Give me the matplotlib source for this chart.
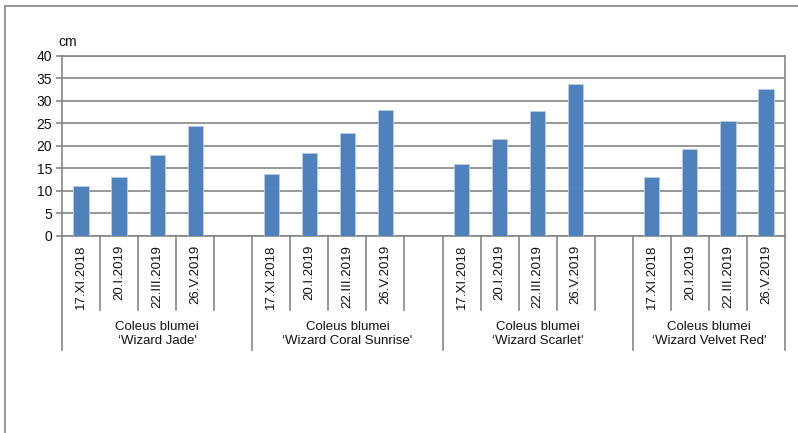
import matplotlib
matplotlib.use("Agg")
import matplotlib.pyplot as plt
from matplotlib.lines import Line2D

plt.rcParams['font.family'] = ['Liberation Sans', 'DejaVu Sans']

dates = ["17.XI.2018", "20.I.2019", "22.III.2019", "26.V.2019"]
cultivars = ["Coleus blumei\n‘Wizard Jade'",
             "Coleus blumei\n‘Wizard Coral Sunrise'",
             "Coleus blumei\n‘Wizard Scarlet'",
             "Coleus blumei\n‘Wizard Velvet Red'"]
jade = [11.0, 13.1, 17.9, 24.4]
coral = [13.8, 18.4, 22.8, 27.9]
scarlet = [15.9, 21.4, 27.6, 33.8]
velvet = [13.1, 19.3, 25.5, 32.6]
series = [jade, coral, scarlet, velvet]
yticks = [0, 5, 10, 15, 20, 25, 30, 35, 40]

W, H = 798, 433
fig = plt.figure(figsize=(W / 100, H / 100), dpi=100)
txt_c = '#111111'
fs = 9.5

# figure border (left and top)
border_c = '#8c8c8c'
fig.add_artist(Line2D([5 / W, 5 / W], [0, 1 - 6 / H], transform=fig.transFigure, color=border_c, lw=1.3))
fig.add_artist(Line2D([5 / W, 1], [1 - 6 / H, 1 - 6 / H], transform=fig.transFigure, color=border_c, lw=1.3))

left, right, top, bottom = 62, 785, 55.7, 235.7
ax = fig.add_axes([left / W, 1 - bottom / H, (right - left) / W, (bottom - top) / H])
axh = bottom - top

grid_c = '#868686'
xs = []
for g in range(len(series)):
    for i in range(len(dates)):
        xs.append(g * 5 + i)
vals = [v for s in series for v in s]
ax.bar(xs, vals, width=0.4, color='#4F81BD', edgecolor='#B9CDE5', linewidth=0.6, zorder=3)

nslots = 5 * len(series) - 1
ax.set_xlim(-0.5, nslots - 0.5)
ax.set_ylim(0, 40)
ax.set_yticks(yticks)
ax.set_yticklabels([str(t) for t in yticks], fontsize=10, color=txt_c)
ax.set_xticks([])
ax.yaxis.grid(True, color=grid_c, lw=1.2, zorder=0)
ax.set_axisbelow(True)
for s in ax.spines.values():
    s.set_color(grid_c)
    s.set_linewidth(1.2)
ax.tick_params(axis='y', length=4, width=1.2, color=grid_c, pad=3)

tr = ax.get_xaxis_transform()
def ay(px):
    return (bottom - px) / axh

for b in range(nslots + 1):
    xb = b - 0.5
    is_group = (b % 5 == 0) or b == nslots
    y_end = 350 if is_group else 310
    ax.add_line(Line2D([xb, xb], [0, ay(y_end)], transform=tr, color=grid_c, lw=1.2, clip_on=False))

for x in xs:
    ax.text(x, ay(245), dates[x % 5], transform=tr, rotation=90, ha='center', va='top',
            fontsize=fs, color=txt_c, clip_on=False)

for g, name in enumerate(cultivars):
    start = g * 5 - 0.5
    end = min(g * 5 + 4.5, nslots - 0.5)
    ax.text((start + end) / 2, ay(334), name, transform=tr, ha='center', va='center',
            fontsize=fs, color=txt_c, linespacing=1.2, clip_on=False)

fig.text(58 / W, 1 - 42 / H, 'cm', ha='left', va='center', fontsize=10, color=txt_c)

fig.savefig('out.png', dpi=100)
